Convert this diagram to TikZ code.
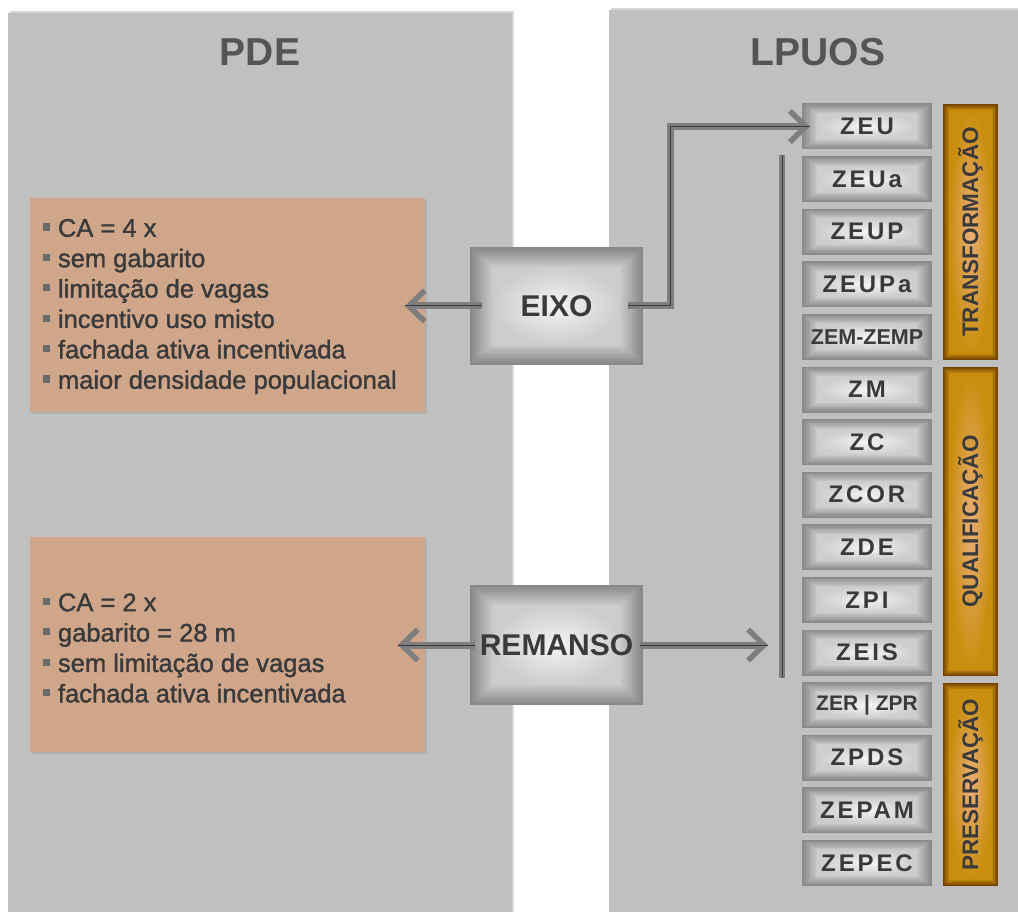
\documentclass[tikz,border=0pt]{standalone}
\usepackage{fontspec}
\setmainfont{Liberation Sans}
\newfontfamily\zonefont[LetterSpace=12]{Liberation Sans}
\newfontfamily\listfont[FakeBold=1.3]{Liberation Sans}
\usetikzlibrary{arrows.meta,shadows,calc}
\definecolor{panelgray}{HTML}{C0C0C0}
\definecolor{peach}{HTML}{CFA68A}
\definecolor{txtdark}{HTML}{3A3A3A}
\definecolor{titlegray}{HTML}{555555}
\definecolor{arrowgray}{HTML}{7E7E7E}
\definecolor{darkline}{HTML}{3A3A3A}
\definecolor{bulgray}{HTML}{6A6A6A}
\definecolor{pilin}{HTML}{F4F4F4}
\definecolor{pilmid}{HTML}{CDCDCD}
\definecolor{pilout}{HTML}{888888}
\definecolor{ambc}{HTML}{EAAE78}
\definecolor{ambm}{HTML}{C98E0E}
\definecolor{ambe}{HTML}{744200}
\newcommand{\bul}{{\color{bulgray}\rule[0.24em]{0.28em}{0.28em}}\hspace{0.3em}}
\tikzset{
  bevel/.style n args={5}{fill=#1, path picture={
     \foreach \k in {0,...,12}{
       \pgfmathsetmacro\pc{100*\k/12}
       \fill[#2!\pc!#1] ($(path picture bounding box.south west)+(\k*#4pt,\k*#5pt)$)
         rectangle ($(path picture bounding box.north east)-(\k*#4pt,\k*#5pt)$);
     }
     \shade[inner color=#3, outer color=#2] ($(path picture bounding box.south west)+(12*#4pt,12*#5pt)$)
         rectangle ($(path picture bounding box.north east)-(12*#4pt,12*#5pt)$);
  }},
  panel/.style={fill=panelgray, draw=none, inner sep=0pt,
    drop shadow={shadow xshift=2pt, shadow yshift=2pt, opacity=0.3}},
  titletext/.style={font=\fontsize{39}{44}\selectfont\bfseries, text=titlegray},
  peachbox/.style={fill=peach, draw=none, inner sep=0pt,
    drop shadow={shadow xshift=2pt, shadow yshift=-2pt, opacity=0.25}},
  listtext/.style={font=\fontsize{25.5}{30.4}\selectfont\listfont, text=txtdark, align=left, inner sep=0pt},
  bigbox/.style={bevel={pilout}{pilmid}{pilin}{1.9}{1.7}, draw=none, inner sep=0pt, minimum width=173pt,
    font=\fontsize{30}{34}\selectfont\bfseries, text=txtdark},
  zone/.style={bevel={pilout}{pilmid}{pilin}{1.3}{0.85}, draw=none, inner sep=0pt, minimum width=130pt,
    minimum height=46pt, font=\fontsize{24}{28}\selectfont\bfseries\zonefont, text=txtdark},
  group/.style={bevel={ambe}{ambm}{ambc}{0.55}{0.55}, draw=none, inner sep=0pt, minimum width=55pt,
    text=txtdark},
  grouptext/.style={rotate=90, text=txtdark, inner sep=0pt,
    font=\fontsize{22.5}{26}\selectfont\bfseries},
  conn/.style={draw=arrowgray, line width=7pt,
    -{Straight Barb[length=16pt, width=31pt, line width=5.5pt]},
    postaction={draw=darkline, line width=1pt, -}},
  barline/.style={draw=arrowgray, line width=6pt,
    postaction={draw=darkline, line width=1pt}}
}
\begin{document}
\begin{tikzpicture}[x=1pt, y=-1pt]
\useasboundingbox (0,0) rectangle (1018,912);
\fill[white] (0,0) rectangle (1018,912);

% panels
\node[panel, minimum width=504pt, minimum height=917pt] (pde) at (260,471.5) {};
\node[panel, minimum width=421pt, minimum height=920pt] (lpuos) at (819.5,470) {};
\node[titletext] (pdet) at (260,52) {PDE};
\node[titletext] (lpuost) at (818,52) {LPUOS};

% PDE info boxes
\node[peachbox, minimum width=395pt, minimum height=214pt] (eixoinfo) at (227.5,305) {};
\node[listtext, anchor=west] (eixolist) at (43,306.5) {\bul CA = 4 x\\ \bul sem gabarito\\ \bul limitação de vagas\\ \bul incentivo uso misto\\ \bul fachada ativa incentivada\\ \bul maior densidade populacional};
\node[peachbox, minimum width=395pt, minimum height=215pt] (reminfo) at (227.5,644.5) {};
\node[listtext, anchor=west] (remlist) at (43,648) {\bul CA = 2 x\\ \bul gabarito = 28 m\\ \bul sem limitação de vagas\\ \bul fachada ativa incentivada};

% central boxes
\node[bigbox, minimum height=117pt] (eixo) at (556.5,306) {EIXO};
\node[bigbox, minimum height=120pt] (remanso) at (556.5,645) {REMANSO};

% zones
\node[zone] (zeu) at (867,126.5) {ZEU};
\node[zone] (zeua) at (867,179.1) {ZEUa};
\node[zone] (zeup) at (867,231.7) {ZEUP};
\node[zone] (zeupa) at (867,284.3) {ZEUPa};
\node[zone, font=\fontsize{21.5}{24}\selectfont\bfseries] (zem) at (867,336.9) {ZEM-ZEMP};
\node[zone] (zm) at (867,389.5) {ZM};
\node[zone] (zc) at (867,442.1) {ZC};
\node[zone] (zcor) at (867,494.7) {ZCOR};
\node[zone] (zde) at (867,547.3) {ZDE};
\node[zone] (zpi) at (867,599.9) {ZPI};
\node[zone] (zeis) at (867,652.5) {ZEIS};
\node[zone, font=\fontsize{21}{24}\selectfont\bfseries] (zer) at (867,705.1) {ZER | ZPR};
\node[zone] (zpds) at (867,757.7) {ZPDS};
\node[zone] (zepam) at (867,810.3) {ZEPAM};
\node[zone] (zepec) at (867,862.9) {ZEPEC};

% groups
\node[group, minimum height=256pt] (transf) at (970.5,232) {};
\node[grouptext] (transft) at (transf.center) {TRANSFORMAÇÃO};
\node[group, minimum height=309pt] (qualif) at (970.5,521.5) {};
\node[grouptext] (qualift) at (qualif.center) {QUALIFICAÇÃO};
\node[group, minimum height=203pt] (preserv) at (970.5,784.5) {};
\node[grouptext] (preservt) at (preserv.center) {PRESERVAÇÃO};

% connectors
\coordinate (bartop) at (782,155);
\coordinate (barbot) at (782,678);
\coordinate (rtip) at (768,645);
\draw[barline] (bartop) -- (barbot);
\draw[conn] ([xshift=12pt]eixo.west) -- ([xshift=-65pt]eixo.west);
\draw[conn] ([xshift=-15pt]eixo.east) -- ++(42,0) |- ([xshift=8pt]zeu.west);
\draw[conn] ([xshift=5pt]remanso.west) -- ([xshift=-72pt]remanso.west);
\draw[conn] ([xshift=-3pt]remanso.east) -- (rtip);
\end{tikzpicture}
\end{document}
